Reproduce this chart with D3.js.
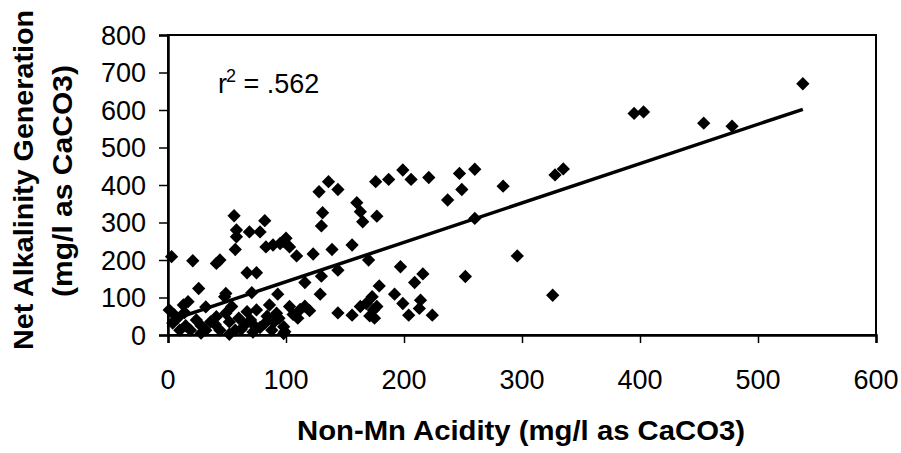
<!DOCTYPE html>
<html>
<head>
<meta charset="utf-8">
<script src="https://cdn.jsdelivr.net/npm/d3@7"></script>
<style>
  body { margin: 0; background: #fff; }
  text { font-family: Arial, "Liberation Sans", sans-serif; fill: #000; }
</style>
</head>
<body>
<div id="container"></div>
<script>
/* CONSTANTS AND GLOBALS */
const width = 901,
  height = 453,
  margin = { top: 35, bottom: 118, left: 168, right: 25 };

// DATA
const acidity = [
  3, 21, 41, 44, 56, 58, 58, 57, 69, 78, 82, 83, 89, 95, 100, 103, 98, 109, 123,
  128, 136, 144, 131, 130, 139, 156, 160, 163, 165, 177, 176, 187, 199, 206, 221,
  247, 260, 249, 237, 284, 260, 170, 197, 216, 209, 252, 296, 326, 328, 335,
  395, 403, 454, 478, 538,
  67, 75, 26, 49, 71, 93, 116, 129, 130, 144, 144, 156, 86, 103, 112, 116, 67, 75,
  163, 179, 173, 168, 177, 171, 174, 192, 199, 204, 214, 213, 224, 17, 1, 13, 32,
  4, 41, 49, 24, 10, 19, 32, 44, 92, 54, 48, 57, 74, 88, 99, 65, 82, 98, 98,
  5, 8, 14, 28, 36, 52, 60, 62, 70, 78, 90, 94, 106, 110, 120, 52, 28, 15, 40,
  72, 84, 175
];
const alkalinity = [
  209, 198, 191, 200, 318, 280, 262, 228, 275, 275, 305, 235, 240, 244, 258, 235, 250, 211, 216,
  382, 409, 388, 326, 291, 228, 240, 353, 329, 302, 317, 409, 415, 440, 415, 420,
  431, 442, 388, 360, 397, 311, 200, 182, 163, 140, 156, 211, 106, 427, 443,
  591, 595, 565, 557, 670,
  166, 166, 124, 111, 113, 109, 140, 109, 157, 173, 59, 53, 80, 76, 68, 77, 62, 67,
  76, 131, 102, 84, 76, 51, 67, 109, 84, 53, 93, 71, 53, 89, 67, 80, 75,
  32, 49, 58, 40, 13, 13, 13, 13, 58, 76, 102, 13, 22, 13, 9, 27, 31, 22, 4,
  55, 45, 60, 25, 35, 35, 45, 15, 40, 20, 35, 45, 55, 45, 65, 2, 5, 25, 28,
  8, 50, 45
];
const xTicks = [0, 100, 200, 300, 400, 500, 600];
const yTicks = [0, 100, 200, 300, 400, 500, 600, 700, 800];
// linear trend shown on the chart
const trendIntercept = 37;
const trendSlope = 1.05;
const rSquaredLabel = ".562";

const points = acidity.map((a, i) => ({ x: a, y: alkalinity[i] }));

const svg = d3.select("#container")
  .append("svg")
  .attr("width", width)
  .attr("height", height);

// SCALES
const xScale = d3.scaleLinear()
  .domain([0, 600])
  .range([margin.left, 876]);

const yScale = d3.scaleLinear()
  .domain([0, 800])
  .range([335, margin.top]);

// plot frame
svg.append("rect")
  .attr("x", xScale(0))
  .attr("y", yScale(800))
  .attr("width", xScale(600) - xScale(0))
  .attr("height", yScale(0) - yScale(800))
  .attr("fill", "none")
  .attr("stroke", "black")
  .attr("stroke-width", 2);

// AXES
const xAxis = svg.append("g")
  .attr("transform", `translate(0, ${yScale(0)})`)
  .call(d3.axisBottom(xScale).tickValues(xTicks).tickSize(8).tickFormat(""));
xAxis.select(".domain").attr("stroke-width", 2.5);
xAxis.selectAll(".tick line").attr("stroke-width", 1.5);

const yAxis = svg.append("g")
  .attr("transform", `translate(${xScale(0)}, 0)`)
  .call(d3.axisLeft(yScale).tickValues(yTicks).tickSize(9).tickFormat(""));
yAxis.select(".domain").attr("stroke-width", 2.5);
yAxis.selectAll(".tick line").attr("stroke-width", 1.5);

// tick labels
svg.selectAll("text.xlab")
  .data(xTicks)
  .join("text")
  .attr("class", "xlab")
  .attr("text-anchor", "middle")
  .attr("font-size", 27)
  .attr("x", d => xScale(d))
  .attr("y", 389)
  .text(d => d);

svg.selectAll("text.ylab")
  .data(yTicks)
  .join("text")
  .attr("class", "ylab")
  .attr("text-anchor", "end")
  .attr("font-size", 27)
  .attr("x", 146)
  .attr("y", d => yScale(d) + 9.5)
  .text(d => d);

// AXIS TITLES
svg.append("text")
  .attr("x", 521)
  .attr("y", 440)
  .attr("text-anchor", "middle")
  .attr("font-size", 27)
  .attr("font-weight", "bold")
  .attr("textLength", 448)
  .attr("lengthAdjust", "spacingAndGlyphs")
  .text("Non-Mn Acidity (mg/l as CaCO3)");

svg.append("text")
  .attr("transform", "translate(33, 180) rotate(-90)")
  .attr("text-anchor", "middle")
  .attr("font-size", 27)
  .attr("font-weight", "bold")
  .attr("textLength", 340)
  .attr("lengthAdjust", "spacingAndGlyphs")
  .text("Net Alkalinity Generation");

svg.append("text")
  .attr("transform", "translate(72, 181) rotate(-90)")
  .attr("text-anchor", "middle")
  .attr("font-size", 27)
  .attr("font-weight", "bold")
  .attr("textLength", 232)
  .attr("lengthAdjust", "spacingAndGlyphs")
  .text("(mg/l as CaCO3)");

// TREND LINE
const [xMin, xMax] = d3.extent(acidity);
svg.append("path")
  .datum([xMin, xMax])
  .attr("fill", "none")
  .attr("stroke", "black")
  .attr("stroke-width", 3.5)
  .attr("d", d3.line()
    .x(d => xScale(d))
    .y(d => yScale(trendIntercept + trendSlope * d)));

// POINTS - diamonds
const diamond = d3.symbol().type(d3.symbolSquare).size(88);
svg.selectAll("path.point")
  .data(points)
  .join("path")
  .attr("class", "point")
  .attr("d", diamond)
  .attr("fill", "black")
  .attr("transform", d => `translate(${xScale(d.x)}, ${yScale(d.y)}) rotate(45)`);

// r squared annotation
const rLabel = svg.append("text")
  .attr("font-size", 27)
  .attr("x", 218)
  .attr("y", 93);
rLabel.append("tspan").text("r");
rLabel.append("tspan").attr("font-size", 18).attr("dy", -11).attr("dx", -1).text("2");
rLabel.append("tspan").attr("dy", 11).text(" = " + rSquaredLabel);
</script>
</body>
</html>
